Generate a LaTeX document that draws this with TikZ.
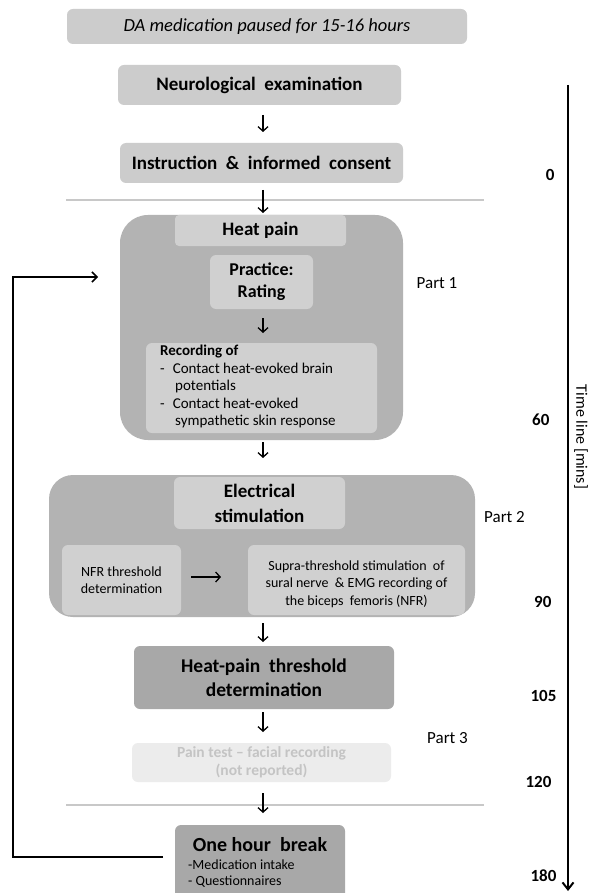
\documentclass[tikz,border=0pt]{standalone}
\usepackage{fontspec}
\setmainfont{Carlito}
\usetikzlibrary{arrows.meta}
\definecolor{boxlight}{HTML}{CCCCCC}
\definecolor{boxinner}{HTML}{D0D0D0}
\definecolor{boxgroup}{HTML}{B3B3B3}
\definecolor{boxdark}{HTML}{A8A8A8}
\definecolor{boxfaint}{HTML}{ECECEC}
\definecolor{textfaint}{HTML}{C4C4C4}
\definecolor{sepline}{HTML}{C8C8C8}
\begin{document}
\begin{tikzpicture}[x=1pt,y=-1pt,
  box/.style={draw=none, rounded corners=6pt, inner sep=0pt, align=center},
  light/.style={box, fill=boxlight},
  inner/.style={box, fill=boxinner},
  dark/.style={box, fill=boxdark},
  group/.style={draw=none, fill=boxgroup, rounded corners=28pt, inner sep=0pt},
  flow/.style={line width=1.3pt, -{Straight Barb[length=4.5pt,width=10pt]}},
  loop/.style={line width=1.5pt, -{Straight Barb[length=5pt,width=10pt]}},
  sep/.style={draw=sepline, line width=1.5pt},
  big/.style={font=\fontsize{19}{24}\selectfont\bfseries},
  mid/.style={font=\fontsize{15}{17.5}\selectfont},
  small/.style={font=\fontsize{14}{17.5}\selectfont},
  part/.style={font=\fontsize{17}{20}\selectfont},
  tick/.style={font=\fontsize{17}{20}\selectfont\bfseries, anchor=east}
]
\useasboundingbox (0,0) rectangle (592,893);
\fill[white] (0,0) rectangle (592,893);

% preparation
\node[light, minimum width=400pt, minimum height=35pt,
      font=\fontsize{18.5}{22}\selectfont\itshape] (pause) at (267,26.5)
      {DA medication paused for 15-16 hours};
\node[light, minimum width=283pt, minimum height=40pt, big] (neuro) at (259.5,85)
      {Neurological\ \ examination};
\node[light, minimum width=283pt, minimum height=40pt, big] (consent) at (261.5,163)
      {Instruction\ \ \&\ \ informed\ \ consent};

% separators
\draw[sep] (66,200) -- (484,200);
\draw[sep] (66,805) -- (484,805);

% part 1: heat pain
\node[group, minimum width=283pt, minimum height=225pt] (heat) at (261.5,327.5) {};
\node[inner, rounded corners=4pt, minimum width=171pt, minimum height=31pt, big] (heathead) at (260.5,230.5) {Heat pain};
\node[inner, minimum width=103pt, minimum height=54pt,
      font=\fontsize{18}{22}\selectfont\bfseries] (practice) at (261.5,282) {Practice:\\Rating};
\node[inner, minimum width=231pt, minimum height=90pt] (record) at (261.5,388) {};
\node[anchor=north west, inner sep=0pt, mid, align=left] (recordtext) at (160,345)
      {\textbf{Recording of}\\
       -\hspace{8pt}Contact heat-evoked brain\\
       \hspace{15pt}potentials\\
       -\hspace{8pt}Contact heat-evoked\\
       \hspace{15pt}sympathetic skin response};
\node[part] (p1) at (437,283) {Part 1};

% part 2: electrical stimulation
\node[group, rounded corners=24pt, minimum width=426pt, minimum height=142pt] (elec) at (262,546) {};
\node[inner, minimum width=171pt, minimum height=52pt, big,
      font=\fontsize{19}{25}\selectfont\bfseries] (elechead) at (259.5,503) {Electrical\\stimulation};
\node[inner, minimum width=119pt, minimum height=70pt, small] (nfr) at (121.5,580)
      {NFR threshold\\determination};
\node[inner, minimum width=217pt, minimum height=70pt] (supra) at (356.5,580) {};
\node[small, align=center, inner sep=0pt] (supratext) at (356.5,584)
      {Supra-threshold stimulation\ \ of\\sural nerve\ \ \& EMG recording of\\the biceps\ \ femoris (NFR)};
\node[part] (p2) at (504.5,517) {Part 2};

% part 3
\node[dark, minimum width=260pt, minimum height=63pt,
      font=\fontsize{19.5}{24}\selectfont\bfseries] (threshold) at (264,677.5)
      {Heat-pain\ \ threshold\\determination};
\node[box, fill=boxfaint, minimum width=259pt, minimum height=39pt, text=textfaint,
      font=\fontsize{15.5}{18}\selectfont\bfseries] (facial) at (261.5,762.5)
      {Pain test -- facial recording\\(not reported)};
\node[part] (p3) at (447.5,738) {Part 3};

% break
\node[dark, minimum width=170pt, minimum height=75pt] (break) at (260,862.5) {};
\node[font=\fontsize{20}{24}\selectfont\bfseries, inner sep=0pt] (breaktitle) at (260,845) {One hour\ \ break};
\node[anchor=west, inner sep=0pt, small] (med) at (188,865) {-Medication intake};
\node[anchor=west, inner sep=0pt, small] (quest) at (188,882) {- Questionnaires};

% flow arrows
\coordinate (a1s) at (263,115); \coordinate (a1e) at (263,132);
\coordinate (a2s) at (263,190); \coordinate (a2e) at (263,213);
\coordinate (a3s) at (263,318); \coordinate (a3e) at (263,333);
\coordinate (a4s) at (263,442); \coordinate (a4e) at (263,458);
\coordinate (a5s) at (263,623); \coordinate (a5e) at (263,642);
\coordinate (a6s) at (263,712); \coordinate (a6e) at (263,732);
\coordinate (a7s) at (263,793); \coordinate (a7e) at (263,813);
\draw[flow] (a1s) -- (a1e);
\draw[flow] (a2s) -- (a2e);
\draw[flow] (a3s) -- (a3e);
\draw[flow] (a4s) -- (a4e);
\draw[flow] (a5s) -- (a5e);
\draw[flow] (a6s) -- (a6e);
\draw[flow] (a7s) -- (a7e);
\coordinate (nfrout) at (191,577); \coordinate (suprain) at (221,577);
\draw[flow] (nfrout) -- (suprain);

% repeat loop after the break
\coordinate (loopstart) at (163,857);
\coordinate (loopend) at (98,277);
\draw[loop] (loopstart) -- (13,857) -- (13,277) -- (loopend);

% time line
\coordinate (ttop) at (568,85);
\coordinate (tbot) at (568,891);
\draw[line width=2pt, -{Straight Barb[length=7pt,width=11pt]}] (ttop) -- (tbot);
\node[rotate=-90, font=\fontsize{16}{18}\selectfont, inner sep=0pt] (tlabel) at (581,437) {Time line [mins]};
\node[tick] (t0) at (558,175) {0};
\node[tick] (t60) at (553,420) {60};
\node[tick] (t90) at (555,602) {90};
\node[tick] (t105) at (560,696) {105};
\node[tick] (t120) at (555,782) {120};
\node[tick] (t180) at (560,876) {180};
\end{tikzpicture}
\end{document}
